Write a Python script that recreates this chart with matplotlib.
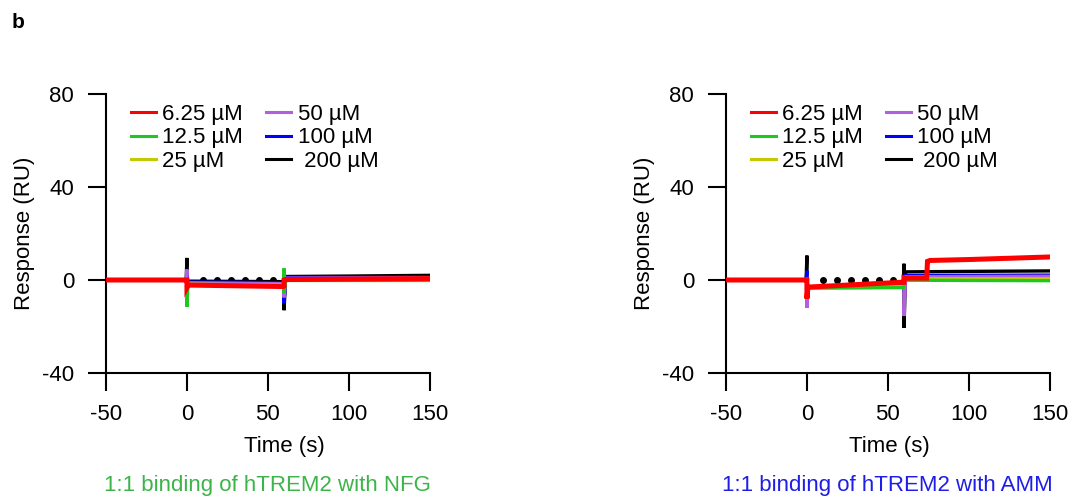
import matplotlib.pyplot as plt

plt.rcParams['font.family'] = ['Liberation Sans', 'DejaVu Sans']
plt.rcParams['axes.unicode_minus'] = False

# legend / colours
conc_labels = ["6.25 µM", "12.5 µM", "25 µM", "50 µM", "100 µM", " 200 µM"]
conc_colors = ["#ff0000", "#1ec81e", "#c8c800", "#b060e0", "#0000ff", "#000000"]

# ---- NFG panel: breakpoints (time s, response RU) per concentration ----
nfg_t = {
    "6.25 µM": [-50, -0.5, 0, 0, 0.6, 2, 30, 58, 59.6, 60, 60, 61, 100, 150],
    "12.5 µM": [-50, -0.5, 0, 0, 0.6, 2, 30, 58, 59.6, 60, 60, 61, 100, 150],
    "25 µM":   [-50, -0.5, 0, 0, 0.6, 2, 30, 58, 59.6, 60, 60, 61, 100, 150],
    "50 µM":   [-50, -0.5, 0, 0, 0.6, 2, 30, 58, 59.6, 60, 60, 61, 100, 150],
    "100 µM":  [-50, -0.5, 0, 0, 0.6, 2, 30, 58, 59.6, 60, 60, 61, 100, 150],
    " 200 µM": [-50, -0.5, 0, 0, 0.6, 2, 30, 58, 59.6, 60, 60, 61, 100, 150],
}
nfg_y = {
    "6.25 µM": [0, 0, 0, -3.2, -2.4, -2.2, -2.5, -2.8, -2.8, -2.6, 0.0, 0.2, 0.4, 0.6],
    "12.5 µM": [0, 0, 0, -11.5, -2.5, -2.0, -2.2, -2.4, -2.4, 5.0, -5.5, -0.2, -0.2, -0.2],
    "25 µM":   [0, 0, 0, -2.0, -2.0, -1.8, -2.0, -2.2, -2.2, -2.0, 0.0, 0.1, 0.2, 0.2],
    "50 µM":   [0, 0, 4.5, -1.5, -1.3, -1.2, -1.4, -1.6, -1.6, -1.5, -7.5, 0.8, 0.9, 1.0],
    "100 µM":  [0, 0, 2.0, -1.0, -1.0, -0.9, -1.0, -1.2, -1.2, -1.2, -10.0, 1.1, 1.2, 1.4],
    " 200 µM": [0, 0, 9.5, -0.6, -0.6, -0.5, -0.6, -0.7, -0.7, -0.7, -13.0, 1.5, 1.7, 2.0],
}

# ---- AMM panel ----
amm_t = {
    "6.25 µM": [-50, -0.5, 0, 0, 0.6, 2, 30, 58, 59.6, 60, 60, 61, 74, 74.5, 76, 100, 150],
    "12.5 µM": [-50, -0.5, 0, 0, 0.6, 2, 30, 58, 59.6, 60, 60, 61, 100, 150],
    "25 µM":   [-50, -0.5, 0, 0, 0.6, 2, 30, 58, 59.6, 60, 60, 61, 100, 150],
    "50 µM":   [-50, -0.5, 0, 0, 0.6, 2, 30, 58, 59.6, 60, 60, 61, 100, 150],
    "100 µM":  [-50, -0.5, 0, 0, 0.6, 2, 30, 58, 59.6, 60, 60, 61, 100, 150],
    " 200 µM": [-50, -0.5, 0, 0, 0.6, 2, 30, 58, 59.6, 60, 60, 61, 100, 150],
}
amm_y = {
    "6.25 µM": [0, 0, 0, -8.0, -3.2, -3.0, -2.0, -1.0, -1.0, -1.0, 1.0, 0.8, 0.8, 8.0, 8.4, 8.8, 9.9],
    "12.5 µM": [0, 0, 0, 1.0, -3.5, -3.5, -3.4, -3.3, -3.3, -3.0, 0.0, -0.1, -0.2, -0.3],
    "25 µM":   [0, 0, 0, -1.0, -3.3, -3.3, -3.2, -3.0, -3.0, -3.0, 0.5, 0.5, 0.5, 0.5],
    "50 µM":   [0, 0, 0, -12.0, -3.2, -3.2, -3.0, -2.8, -2.8, -5.0, -15.5, 1.4, 1.5, 1.6],
    "100 µM":  [0, 0, 4.0, -3.0, -3.0, -3.0, -2.6, -2.2, -2.2, -2.2, -5.0, 1.9, 2.0, 2.1],
    " 200 µM": [0, 0, 10.5, -3.0, -3.0, -3.0, -2.0, -1.0, -1.0, 7.0, -20.6, 3.5, 3.7, 3.9],
}

# dotted fit reference during injection
fit_t = [10, 18.6, 27.2, 35.8, 44.4, 53]
fit_y = [0, 0, 0, 0, 0, 0]

panels = [
    (nfg_t, nfg_y, "1:1 binding of hTREM2 with NFG", "#3cb44a", 0.0991, 0.55),
    (amm_t, amm_y, "1:1 binding of hTREM2 with AMM", "#1e1ee6", 0.6785, 0.505),
]

fig = plt.figure(figsize=(10.7, 4.97), dpi=100)
fig.text(12 / 1070, 1 - 22 / 497, "b", fontsize=15, fontweight="bold", va="center")

draw_order = [5, 4, 3, 2, 1, 0]

for tdict, ydict, title, tcol, x0, xlab in panels:
    ax = fig.add_axes([x0, 0.2495, 0.3025, 0.5614])
    handles = {}
    for i in draw_order:
        lab = conc_labels[i]
        lw = 3.6 if i == 0 else 2.4
        ln, = ax.plot(tdict[lab], ydict[lab], color=conc_colors[i], lw=lw,
                      solid_joinstyle="miter", zorder=2 + (6 - i) * 0.1)
        handles[lab] = ln
    ax.plot(fit_t, fit_y, "o", color="black", ms=4, zorder=1.5)

    ax.set_xlim(-50, 150)
    ax.set_ylim(-40, 80)
    ax.set_xticks([-50, 0, 50, 100, 150])
    ax.set_yticks([-40, 0, 40, 80])
    for s in ["top", "right"]:
        ax.spines[s].set_visible(False)
    for s in ["left", "bottom"]:
        ax.spines[s].set_linewidth(1.5)
    ax.tick_params(length=13, width=1.5, labelsize=16)
    ax.tick_params(axis="x", pad=9)
    ax.tick_params(axis="y", pad=10)
    ax.set_xlabel("Time (s)", fontsize=16)
    ax.set_ylabel("Response (RU)", fontsize=16)
    ax.xaxis.set_label_coords(xlab, -0.225)
    ax.yaxis.set_label_coords(-0.22, 0.5)

    leg = ax.legend([handles[l] for l in conc_labels], conc_labels, ncol=2,
                    frameon=False, fontsize=16, loc="upper left",
                    bbox_to_anchor=(0.05, 0.995), handlelength=1.1,
                    handletextpad=0.3, columnspacing=1.05, labelspacing=0.1,
                    borderaxespad=0)
    for h in leg.legend_handles:
        h.set_linewidth(2.2)

    fig.text(x0 + 0.3025 / 2, 1 - 485 / 497, title, color=tcol,
             fontsize=16, ha="center", va="center")

fig.savefig("out.png", dpi=100)
